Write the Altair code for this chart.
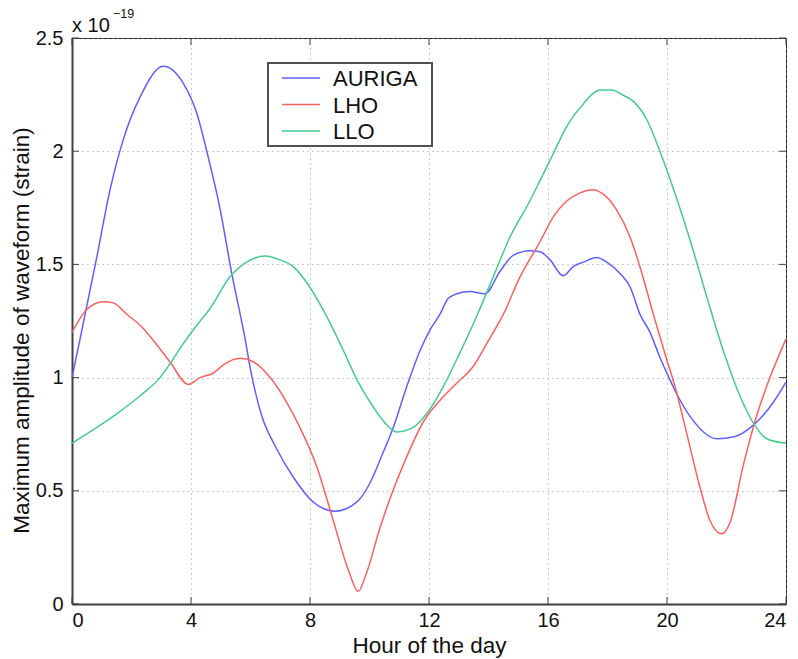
import altair as alt
import pandas as pd

# ---- data ----
auriga_h = [0, 0.27, 0.83, 1.28, 1.72, 2.29, 3.07, 3.74, 4.19, 4.53, 4.97, 5.37, 5.82, 5.98, 6.38, 6.82,
            7.44, 8.11, 8.84, 9.57, 10.0, 10.46, 10.8, 11.25, 11.7, 12.03, 12.37, 12.65, 12.93, 13.38,
            13.88, 14.39, 14.83, 15.4, 15.73, 16.07, 16.51, 16.85, 17.19, 17.64, 17.97, 18.42, 18.76,
            19.09, 19.43, 19.76, 20.1, 20.44, 20.88, 21.67, 22.29, 22.9, 23.57, 24.0]
auriga_v = [1.0, 1.17, 1.53, 1.83, 2.05, 2.24, 2.375, 2.30, 2.17, 2.0, 1.75, 1.46, 1.17, 1.05, 0.83, 0.70,
            0.56, 0.45, 0.41, 0.45, 0.53, 0.67, 0.78, 0.96, 1.12, 1.21, 1.28, 1.35, 1.37, 1.38,
            1.37, 1.47, 1.54, 1.56, 1.556, 1.52, 1.45, 1.49, 1.51, 1.53, 1.51, 1.46, 1.40,
            1.28, 1.20, 1.09, 0.99, 0.90, 0.81, 0.73, 0.74, 0.79, 0.89, 0.98]

lho_h = [0, 0.49, 1.05, 1.39, 1.84, 2.34, 2.85, 3.29, 3.91, 4.3, 4.75, 5.09, 5.65, 6.09, 6.66, 7.22,
         7.66, 8.22, 8.78, 9.29, 9.62, 9.9, 10.35, 10.8, 11.25, 11.81, 12.37, 12.93, 13.49, 13.94,
         14.5, 15.06, 15.73, 16.18, 16.63, 17.08, 17.52, 17.86, 18.31, 18.76, 19.09, 19.54, 19.99,
         20.27, 20.66, 21.1, 21.44, 21.84, 22.12, 22.56, 23.01, 23.46, 24.0]
lho_v = [1.20, 1.30, 1.335, 1.33, 1.28, 1.225, 1.145, 1.07, 0.97, 1.0, 1.02, 1.056, 1.085, 1.07, 1.0, 0.89,
         0.78, 0.61, 0.37, 0.15, 0.056, 0.137, 0.336, 0.505, 0.65, 0.805, 0.90, 0.975, 1.05, 1.15,
         1.28, 1.445, 1.6, 1.71, 1.78, 1.816, 1.83, 1.81, 1.74, 1.62, 1.49, 1.28, 1.08,
         0.96, 0.755, 0.52, 0.37, 0.31, 0.36, 0.61, 0.83, 1.0, 1.17]

llo_h = [0, 0.72, 1.5, 2.29, 2.96, 3.29, 3.74, 4.19, 4.64, 5.31, 5.87, 6.49, 6.99, 7.44, 7.94, 8.56,
         9.12, 9.62, 10.13, 10.52, 10.91, 11.47, 11.92, 12.48, 13.04, 13.6, 14.16, 14.72, 15.39, 15.73,
         16.18, 16.63, 17.19, 17.75, 18.14, 18.53, 18.87, 19.32, 19.76, 20.2, 20.77, 21.33, 21.89,
         22.45, 22.9, 23.35, 24.0]
llo_v = [0.71, 0.77, 0.84, 0.92, 1.0, 1.06, 1.15, 1.23, 1.305, 1.445, 1.51, 1.537, 1.52, 1.49, 1.41, 1.27,
         1.12, 0.98, 0.87, 0.80, 0.76, 0.78, 0.84, 0.96, 1.11, 1.27, 1.445, 1.62, 1.78, 1.87,
         1.99, 2.11, 2.21, 2.27, 2.27, 2.247, 2.22, 2.14, 2.0, 1.84, 1.61, 1.36, 1.12,
         0.92, 0.80, 0.73, 0.71]

series_names = ["AURIGA", "LHO", "LLO"]
series_colors = ["#5f5fff", "#ff5f5f", "#44cc90"]
x_ticks = [0, 4, 8, 12, 16, 20, 24]
y_ticks = [0, 0.5, 1, 1.5, 2, 2.5]

rows = []
for name, hs, vs in zip(series_names, [auriga_h, lho_h, llo_h], [auriga_v, lho_v, llo_v]):
    for i, (h, v) in enumerate(zip(hs, vs)):
        rows.append({"series": name, "hour": h, "value": v, "order": i})
df = pd.DataFrame(rows)

W, H = 714, 566
FONT = "Liberation Sans"
AX = "#404040"
TXT = "#111111"

xscale = alt.Scale(domain=[0, 24], nice=False, zero=False)
yscale = alt.Scale(domain=[0, 2.5], nice=False, zero=False)
cscale = alt.Scale(domain=series_names, range=series_colors)

xaxis = alt.Axis(values=x_ticks, title="Hour of the day", grid=True, gridDash=[1, 4], gridColor="#9a9a9a",
                 tickSize=0, labelPadding=6, domainColor=AX, domainWidth=2, labelFontSize=20,
                 titleFontSize=22.5, titleFontWeight="normal", labelColor=TXT, titleColor=TXT,
                 titlePadding=4, labelFont=FONT, titleFont=FONT)
yaxis = alt.Axis(values=y_ticks, format="~g", title="Maximum amplitude of waveform (strain)", grid=True,
                 gridDash=[1, 4], gridColor="#9a9a9a", tickSize=0, labelPadding=9, domainColor=AX,
                 domainWidth=2, labelFontSize=20, titleFontSize=22.5, titleFontWeight="normal",
                 labelColor=TXT, titleColor=TXT, titlePadding=2, labelFont=FONT, titleFont=FONT,
                 titleY=292)

lines = alt.Chart(df).mark_line(strokeWidth=1.5, interpolate="monotone").encode(
    x=alt.X("hour:Q", scale=xscale, axis=xaxis),
    y=alt.Y("value:Q", scale=yscale, axis=yaxis),
    color=alt.Color("series:N", scale=cscale, legend=None),
    order="order:Q",
)

xt = pd.DataFrame({"t": x_ticks})
yt = pd.DataFrame({"t": y_ticks})
tick_style = dict(color=AX, strokeWidth=1)
xb = alt.Chart(xt).mark_rule(**tick_style).encode(x=alt.X("t:Q", scale=xscale), y=alt.value(H), y2=alt.value(H - 7))
xtop = alt.Chart(xt).mark_rule(**tick_style).encode(x=alt.X("t:Q", scale=xscale), y=alt.value(0), y2=alt.value(7))
yl = alt.Chart(yt).mark_rule(**tick_style).encode(y=alt.Y("t:Q", scale=yscale), x=alt.value(0), x2=alt.value(7))
yr = alt.Chart(yt).mark_rule(**tick_style).encode(y=alt.Y("t:Q", scale=yscale), x=alt.value(W), x2=alt.value(W - 7))

# ---- legend box (drawn like the MATLAB legend) ----
leg = pd.DataFrame({"series": series_names, "idx": list(range(len(series_names)))})
leg_box = alt.Chart(pd.DataFrame({"a": [0]})).mark_rect(fill="white", stroke="#505050", strokeWidth=2).encode(
    x=alt.value(196), x2=alt.value(360), y=alt.value(25), y2=alt.value(108))
leg_base = alt.Chart(leg).transform_calculate(py="40 + 26.5 * datum.idx")
leg_sym = leg_base.mark_rule(strokeWidth=1.5).encode(
    x=alt.value(210), x2=alt.value(248), y=alt.Y("py:Q", scale=None),
    color=alt.Color("series:N", scale=cscale, legend=None))
leg_txt = leg_base.mark_text(align="left", baseline="middle", fontSize=22, font=FONT, color=TXT, dy=1).encode(
    x=alt.value(261), y=alt.Y("py:Q", scale=None), text="series:N")

one = pd.DataFrame({"a": [0]})
exp_base = alt.Chart(one).mark_text(text="x 10", align="left", baseline="alphabetic", fontSize=20,
                                    font=FONT, color=TXT).encode(x=alt.value(0), y=alt.value(-6))
exp_pow = alt.Chart(one).mark_text(text="\u221219", align="left", baseline="alphabetic", fontSize=12.5,
                                   font=FONT, color=TXT).encode(x=alt.value(41), y=alt.value(-20))

chart = alt.layer(lines, xb, xtop, yl, yr, leg_box, leg_sym, leg_txt, exp_base, exp_pow).properties(
    width=W, height=H,
    autosize=alt.AutoSizeParams(type="none"),
    padding={"left": 64, "top": 30, "right": 4, "bottom": 55},
    background="white",
).configure_view(stroke="#222", strokeWidth=1)

chart.save("out.html", embed_options={"renderer": "svg", "actions": False})
